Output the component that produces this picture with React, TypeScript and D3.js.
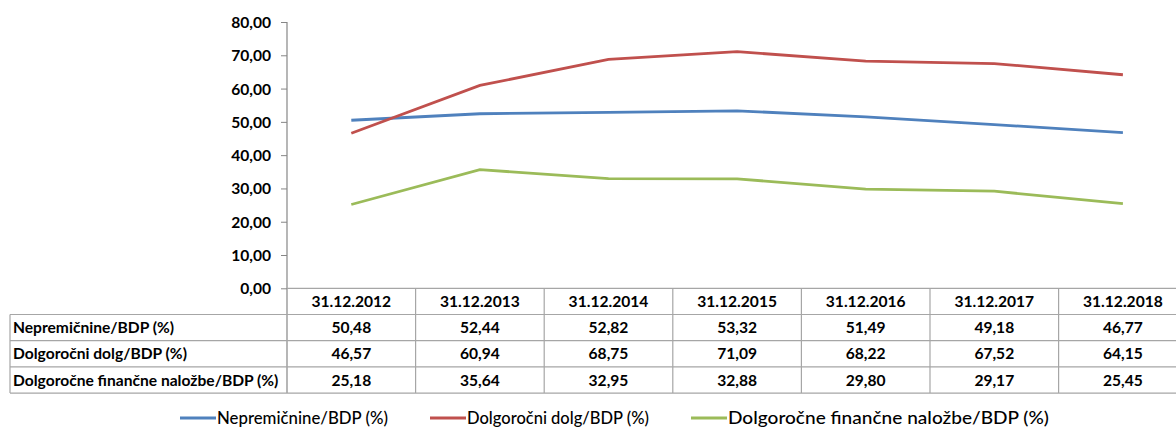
import { useEffect, useRef } from 'react';
import * as d3 from 'd3';

const categories = ['31.12.2012', '31.12.2013', '31.12.2014', '31.12.2015', '31.12.2016', '31.12.2017', '31.12.2018'];
const seriesNames = ['Nepremičnine/BDP (%)', 'Dolgoročni dolg/BDP (%)', 'Dolgoročne finančne naložbe/BDP (%)'];
const nepremicnine = [50.48, 52.44, 52.82, 53.32, 51.49, 49.18, 46.77];
const dolg = [46.57, 60.94, 68.75, 71.09, 68.22, 67.52, 64.15];
const nalozbe = [25.18, 35.64, 32.95, 32.88, 29.8, 29.17, 25.45];
const yTicks = [0, 10, 20, 30, 40, 50, 60, 70, 80];
const colors = ['#4F81BD', '#C0504D', '#9BBB59'];

const fmt = (v: number) => v.toFixed(2).replace('.', ',');

export default function App() {
  const svgRef = useRef<SVGSVGElement>(null);

  useEffect(() => {
    const width = 1176;
    const height = 429;
    const left = 287;
    const bandW = 128.6;
    const top = 22;
    const bottom = 288.3;
    const rowH = 26.2;
    const tableLeft = 10;
    const font = 'Lato, "Open Sans", sans-serif';
    const fs = 15.6;

    const svg = d3.select(svgRef.current)
      .attr('width', width)
      .attr('height', height);
    svg.selectAll('*').remove();

    const x = d3.scaleBand()
      .domain(categories)
      .range([left, left + bandW * categories.length]);

    const y = d3.scaleLinear()
      .domain([0, 80])
      .range([bottom, top]);

    const all = [nepremicnine, dolg, nalozbe];

    // y axis
    const yAxis = svg.append('g')
      .attr('transform', `translate(${left},0)`)
      .call(d3.axisLeft(y).tickValues(yTicks).tickSize(6).tickPadding(10).tickFormat(d => fmt(+d)));
    yAxis.select('.domain').remove();
    yAxis.selectAll('line').attr('stroke', '#868686');
    yAxis.selectAll('text')
      .attr('font-family', font)
      .attr('font-weight', 700)
      .attr('font-size', fs)
      .attr('fill', '#000')
      .attr('dy', '0.35em');

    // table grid
    const grid = svg.append('g').attr('stroke', '#a6a6a6').attr('stroke-width', 1.2).attr('fill', 'none');
    const xEnd = left + bandW * categories.length;
    grid.append('line').attr('x1', left).attr('x2', left).attr('y1', top).attr('y2', bottom + rowH * 4).attr('stroke', '#868686');
    grid.append('line').attr('x1', left).attr('x2', xEnd).attr('y1', bottom).attr('y2', bottom);
    for (let r = 1; r <= 4; r++) {
      grid.append('line').attr('x1', tableLeft).attr('x2', xEnd)
        .attr('y1', bottom + rowH * r).attr('y2', bottom + rowH * r);
    }
    grid.append('line').attr('x1', tableLeft).attr('x2', tableLeft)
      .attr('y1', bottom + rowH).attr('y2', bottom + rowH * 4);
    categories.forEach(c => {
      grid.append('line').attr('x1', x(c)! + bandW).attr('x2', x(c)! + bandW)
        .attr('y1', bottom).attr('y2', bottom + rowH * 4);
    });

    // header
    svg.append('g').selectAll('text')
      .data(categories)
      .enter()
      .append('text')
      .attr('x', d => x(d)! + bandW / 2)
      .attr('y', bottom + rowH / 2)
      .attr('dy', '0.36em')
      .attr('text-anchor', 'middle')
      .attr('font-family', font)
      .attr('font-weight', 700)
      .attr('font-size', fs)
      .text(d => d);

    // rows
    all.forEach((vals, i) => {
      const cy = bottom + rowH * (i + 1.5);
      svg.append('text')
        .attr('x', tableLeft + 3)
        .attr('y', cy)
        .attr('dy', '0.36em')
        .attr('font-family', font)
        .attr('font-weight', 700)
        .attr('font-size', fs)
        .text(seriesNames[i]);
      svg.append('g').selectAll('text')
        .data(vals)
        .enter()
        .append('text')
        .attr('x', (d, j) => x(categories[j])! + bandW / 2)
        .attr('y', cy)
        .attr('dy', '0.36em')
        .attr('text-anchor', 'middle')
        .attr('font-family', font)
        .attr('font-weight', 700)
        .attr('font-size', fs)
        .text(d => fmt(d));
    });

    // lines
    const line = d3.line<number>()
      .x((d, j) => x(categories[j])! + bandW / 2)
      .y(d => y(d));

    svg.append('g').selectAll('path')
      .data(all)
      .enter()
      .append('path')
      .attr('d', d => line(d))
      .attr('fill', 'none')
      .attr('stroke', (d, i) => colors[i])
      .attr('stroke-width', 2.8);

    // legend
    const legendX = [180, 430, 691];
    const legendW = [171, 182, 321];
    const legendY = 418;
    const legend = svg.append('g');
    seriesNames.forEach((name, i) => {
      legend.append('line')
        .attr('x1', legendX[i]).attr('x2', legendX[i] + 36)
        .attr('y1', legendY).attr('y2', legendY)
        .attr('stroke', colors[i]).attr('stroke-width', 2.8);
      legend.append('text')
        .attr('x', legendX[i] + 37)
        .attr('y', legendY)
        .attr('dy', '0.36em')
        .attr('font-family', font)
        .attr('font-weight', 500)
        .attr('font-size', 17.5)
        .attr('textLength', legendW[i])
        .attr('lengthAdjust', 'spacingAndGlyphs')
        .text(name);
    });
  }, []);

  return (
    <div style={{ position: 'absolute', left: 0, top: 0 }}>
      <svg ref={svgRef} style={{ background: '#fff', display: 'block' }}></svg>
    </div>
  );
}
